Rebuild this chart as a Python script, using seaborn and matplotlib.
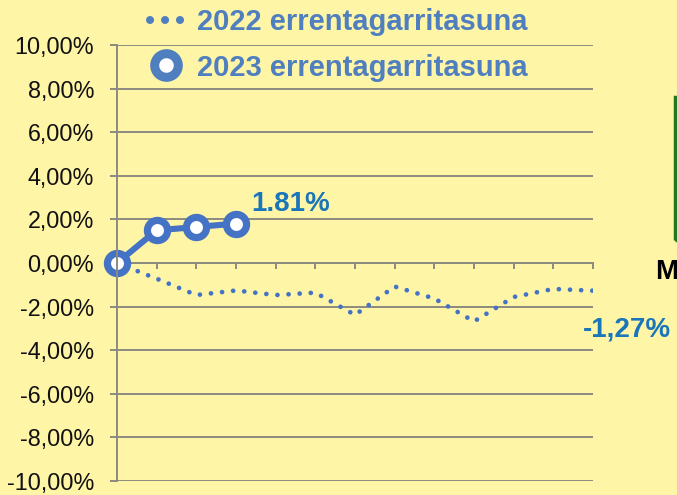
import numpy as np
import pandas as pd
import seaborn as sns
from matplotlib import pyplot as plt
from matplotlib.lines import Line2D
from matplotlib.patches import Rectangle

# hilabeteak (0 = urtarrilaren hasiera)
months22 = [0, 1, 2, 3, 4, 5, 6, 7, 8, 9, 10, 11, 12]
values22 = [0.0, -0.72, -1.47, -1.26, -1.47, -1.36, -2.38, -1.08, -1.63, -2.68, -1.56, -1.19, -1.27]
months23 = [0, 1, 2, 3]
values23 = [0.0, 1.50, 1.65, 1.81]
yticks = [-10, -8, -6, -4, -2, 0, 2, 4, 6, 8, 10]
label22 = "2022 errentagarritasuna"
label23 = "2023 errentagarritasuna"

bg = '#fff5a6'
blue_line = '#4472c4'
blue_leg = '#4f7fbf'
blue_txt = '#1a76bb'
grey = '#8c8b80'

sns.set_style("white")
plt.rcParams['font.family'] = ['Liberation Sans', 'DejaVu Sans']

df22 = pd.DataFrame({'hilabetea': months22, 'balioa': values22})
df23 = pd.DataFrame({'hilabetea': months23, 'balioa': values23})

fig = plt.figure(figsize=(6.77, 4.95), dpi=100, facecolor=bg)
W, H = 677, 495
ax = fig.add_axes([117 / W, (H - 481) / H, 476 / W, 436 / H])
ax.set_facecolor(bg)

sns.lineplot(df22, x='hilabetea', y='balioa', ax=ax, color=blue_line, linewidth=3.4,
             linestyle=(0, (0.01, 2.35)), dash_capstyle='round', zorder=3)
ax.lines[-1].set_dash_capstyle('round')
sns.lineplot(df23, x='hilabetea', y='balioa', ax=ax, color=blue_line, linewidth=4.4,
             marker='o', markersize=14.5, markerfacecolor='white', markeredgecolor=blue_line,
             markeredgewidth=5.2, zorder=4, clip_on=False)

ax.set_xlim(0, 12)
ax.set_ylim(-10, 10)
ax.set_xticks(range(13))
ax.set_xticklabels([])
ax.set_yticks(yticks)
ax.set_yticklabels([f"{v:.2f}%".replace('.', ',') for v in yticks])
ax.set_xlabel('')
ax.set_ylabel('')

ax.grid(axis='y', color=grey, linewidth=1.4)
ax.grid(axis='x', visible=False)
for s in ['top', 'right']:
    ax.spines[s].set_visible(False)
ax.spines['left'].set_color(grey)
ax.spines['left'].set_linewidth(1.4)
ax.spines['bottom'].set_position(('data', 0))
ax.spines['bottom'].set_color(grey)
ax.spines['bottom'].set_linewidth(1.4)
ax.spines['left'].set_zorder(5)
ax.tick_params(axis='y', left=True, length=5, width=1.4, color=grey, pad=11.5,
               labelsize=16.8, labelcolor='#111111')
ax.tick_params(axis='x', bottom=True, direction='out', length=4.5, width=1.4, color=grey)

# azken balioen etiketak
ax.annotate(f"{values23[-1]:.2f}%", xy=(months23[-1], values23[-1]), xytext=(11, 14),
            textcoords='offset points', ha='left', va='center', fontsize=20,
            fontweight='bold', color=blue_txt, annotation_clip=False)
ax.annotate(f"{values22[-1]:.2f}%".replace('.', ','), xy=(months22[-1], values22[-1]),
            xytext=(-7, -28), textcoords='offset points', ha='left', va='center',
            fontsize=20, fontweight='bold', color=blue_txt, annotation_clip=False)

# legenda
h22 = Line2D([], [], color=blue_leg, linewidth=5.8, linestyle=(0, (0.01, 1.85)),
             dash_capstyle='round')
h23 = Line2D([], [], color=blue_leg, linewidth=0, marker='o', markersize=17,
             markerfacecolor='white', markeredgecolor=blue_leg, markeredgewidth=6.5)
leg = fig.legend([h22, h23], [label22, label23], loc='upper left',
                 bbox_to_anchor=(150 / W, 1 - 8 / H), frameon=False,
                 borderpad=0, borderaxespad=0,
                 handlelength=1.1, handletextpad=0.5, labelspacing=0.6,
                 prop={'size': 21, 'weight': 'bold'})
for t in leg.get_texts():
    t.set_color(blue_leg)

# eskuineko elementu mozteak
fig.text(655 / W, 1 - 272 / H, "M", fontsize=20, fontweight='bold', color='black',
         va='center', ha='left')
fig.patches.append(Rectangle((674.5 / W, 1 - 240 / H), 0.05, 143 / H, transform=fig.transFigure,
                             facecolor='none', edgecolor='#1c7a1c', linewidth=2.5))

fig.savefig('out.png', dpi=100, facecolor=bg)
